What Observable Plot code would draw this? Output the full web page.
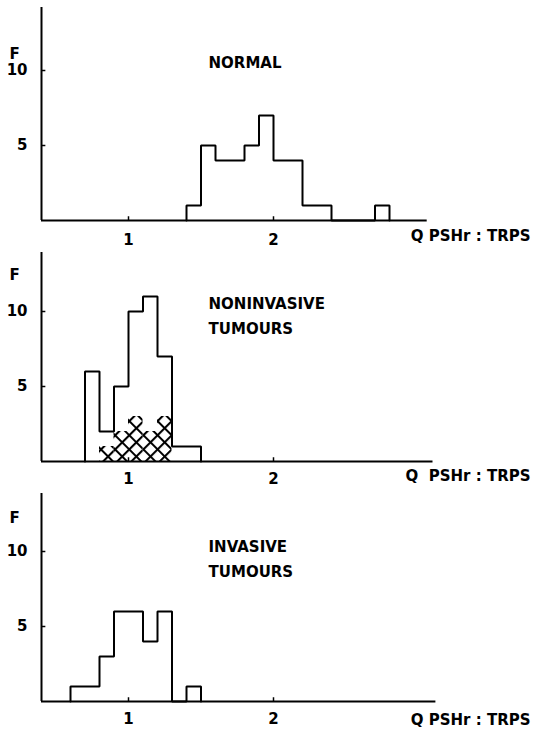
<!DOCTYPE html>
<html>
<head>
<meta charset="utf-8">
<script src="https://cdn.jsdelivr.net/npm/d3@7"></script>
<script src="https://cdn.jsdelivr.net/npm/@observablehq/plot@0.6"></script>
<style>
  html, body { margin: 0; padding: 0; background: #fff; }
  #chart { width: 536px; }
  #chart svg { display: block; }
</style>
</head>
<body>
<div id="chart"></div>
<script>
// ---- data ----
const binWidth = 0.1;
const xTicks = [1, 2];
const yTicks = [5, 10];
const xLabel = "Q PSHr : TRPS";
const xLabel2 = "Q  PSHr : TRPS";
const yLabel = "F";

const normalTitle = ["NORMAL"];
const normalBins = [1.4, 1.5, 1.6, 1.7, 1.8, 1.9, 2.0, 2.1, 2.2, 2.3, 2.4, 2.5, 2.6, 2.7];
const normalCounts = [1, 5, 4, 4, 5, 7, 4, 4, 1, 1, 0, 0, 0, 1];

const noninvTitle = ["NONINVASIVE", "TUMOURS"];
const noninvBins = [0.7, 0.8, 0.9, 1.0, 1.1, 1.2, 1.3, 1.4];
const noninvCounts = [6, 2, 5, 10, 11, 7, 1, 1];
const noninvHatchBins = [0.8, 0.9, 1.0, 1.1, 1.2];
const noninvHatchCounts = [1, 2, 3, 2, 3];

const invTitle = ["INVASIVE", "TUMOURS"];
const invBins = [0.6, 0.7, 0.8, 0.9, 1.0, 1.1, 1.2, 1.3, 1.4];
const invCounts = [1, 1, 3, 6, 6, 4, 6, 0, 1];

// ---- helpers ----
const FONT = "'DejaVu Sans', sans-serif";

function stepPoints(bins, counts) {
  const pts = [{x: bins[0], y: 0}];
  bins.forEach((b, i) => pts.push({x: b, y: counts[i]}));
  pts.push({x: +(bins[bins.length - 1] + binWidth).toFixed(2), y: 0});
  return pts;
}

function hatchDefs() {
  const ns = "http://www.w3.org/2000/svg";
  const defs = document.createElementNS(ns, "defs");
  defs.innerHTML = `<pattern id="xhatch" patternUnits="userSpaceOnUse" width="10" height="10" patternTransform="translate(2,0) rotate(45)">
      <path d="M0,1H10M1,0V10" stroke="#000" stroke-width="2.2" fill="none"/>
    </pattern>`;
  return defs;
}

function panel(cfg) {
  const xDomain = [0.4, 0.4 + (530 - 41) / 145];
  const yMax = (cfg.height - cfg.marginTop - cfg.marginBottom) / 15;
  const marks = [];
  if (cfg.hatch) {
    marks.push(hatchDefs);
    const hd = cfg.hatch.bins.map((b, i) => ({x1: b, x2: b + binWidth, y: cfg.hatch.counts[i]}));
    marks.push(Plot.rectY(hd, {x1: "x1", x2: "x2", y: "y", fill: "url(#xhatch)", inset: 0}));
  }
  const titleData = cfg.title.map((t, i) => ({t, y: cfg.titleY - i * 1.667}));
  marks.push(
    // baseline
    Plot.ruleY([0], {x1: xDomain[0], x2: cfg.baseEnd, stroke: "#000", strokeWidth: 2}),
    // y axis line
    Plot.ruleX([xDomain[0]], {y1: 0, y2: yMax, stroke: "#000", strokeWidth: 2}),
    // inward ticks
    Plot.ruleY(yTicks, {x1: xDomain[0], x2: xDomain[0] + 0.03, stroke: "#000", strokeWidth: 1.5}),
    Plot.ruleX(xTicks, {y1: 0, y2: 0.25, stroke: "#000", strokeWidth: 1.5}),
    // histogram outline
    Plot.line(stepPoints(cfg.bins, cfg.counts), {x: "x", y: "y", curve: "step-after", stroke: "#000", strokeWidth: 2, strokeLinejoin: "miter"}),
    Plot.axisY({ticks: yTicks, tickSize: 0, tickPadding: 14, label: null, fontSize: 15, fontWeight: "bold", tickFormat: d => String(d)}),
    Plot.axisX({ticks: xTicks, tickSize: 0, tickPadding: cfg.xTickPad, label: null, fontSize: 15, fontWeight: "bold", tickFormat: d => String(d)}),
    Plot.text([yLabel], {x: xDomain[0], y: cfg.fY, dx: -27, text: d => d, fontSize: 15, fontWeight: "bold", textAnchor: "middle", lineAnchor: "middle"}),
    Plot.text(titleData, {x: 1.552, y: "y", text: "t", fontSize: 15, fontWeight: "bold", textAnchor: "start", lineAnchor: "middle"}),
    Plot.text([cfg.xLabel], {frameAnchor: "bottom-right", text: d => d, dy: cfg.labelDy, fontSize: 15, fontWeight: "bold", textAnchor: "end", lineAnchor: "middle"})
  );
  return Plot.plot({
    width: 536,
    height: cfg.height,
    marginLeft: 41,
    marginRight: 6,
    marginTop: cfg.marginTop,
    marginBottom: cfg.marginBottom,
    style: {fontFamily: FONT, color: "#000", background: "#fff", overflow: "visible"},
    x: {domain: xDomain},
    y: {domain: [0, yMax]},
    marks
  });
}

const chart = document.getElementById("chart");
chart.append(panel({
  height: 250, marginTop: 7, marginBottom: 30, baseEnd: 3.06,
  bins: normalBins, counts: normalCounts, title: normalTitle,
  titleY: 10.5, fY: 11.1, xLabel: xLabel, labelDy: 16, xTickPad: 14
}));
chart.append(panel({
  height: 240, marginTop: 2, marginBottom: 29, baseEnd: 3.1,
  bins: noninvBins, counts: noninvCounts, title: noninvTitle,
  hatch: {bins: noninvHatchBins, counts: noninvHatchCounts},
  titleY: 10.47, fY: 12.4, xLabel: xLabel2, labelDy: 15, xTickPad: 12
}));
chart.append(panel({
  height: 239, marginTop: 3, marginBottom: 28, baseEnd: 3.12,
  bins: invBins, counts: invCounts, title: invTitle,
  titleY: 10.27, fY: 12.2, xLabel: xLabel, labelDy: 19, xTickPad: 12
}));
</script>
</body>
</html>
